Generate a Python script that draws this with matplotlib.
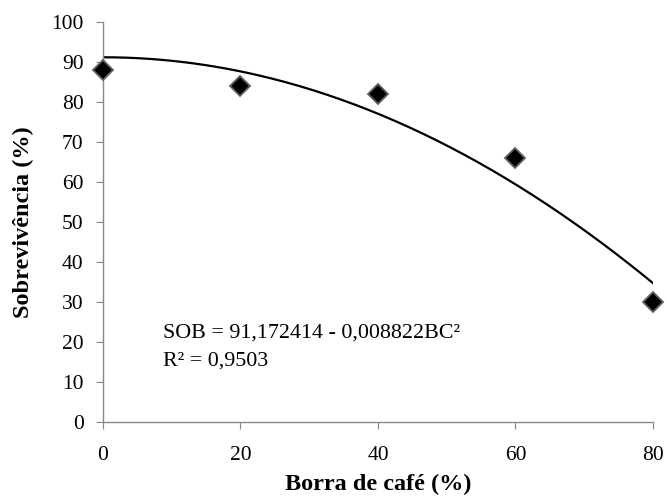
import numpy as np
import matplotlib
matplotlib.use("Agg")
import matplotlib.pyplot as plt

plt.rcParams['font.family'] = ['Liberation Serif', 'DejaVu Serif']

borra = [0, 20, 40, 60, 80]
sobrev = [88, 84, 82, 66, 30]
coef_a = 91.172414
coef_b = -0.008822
xticks = [0, 20, 40, 60, 80]
yticks = [0, 10, 20, 30, 40, 50, 60, 70, 80, 90, 100]

fig = plt.figure(figsize=(6.67, 4.99), dpi=100)
ax = fig.add_axes([0.1544, 0.1543, 0.979 - 0.1544, 0.956 - 0.1543])

xf = np.linspace(0, 80, 200)
ax.plot(xf, coef_a + coef_b * xf**2, color='black', lw=1.6, zorder=2)
ax.plot(borra, sobrev, linestyle='none', marker='D', markersize=10.5,
        markerfacecolor='black', markeredgecolor='#606060', markeredgewidth=1.3,
        clip_on=False, zorder=3)

ax.set_xlim(0, 80)
ax.set_ylim(0, 100)
ax.set_xticks(xticks)
ax.set_yticks(yticks)
ax.spines['top'].set_visible(False)
ax.spines['right'].set_visible(False)
for s in ['left', 'bottom']:
    ax.spines[s].set_color('#888888')
    ax.spines[s].set_linewidth(1)
ax.tick_params(axis='both', direction='out', length=5, color='#888888',
               labelsize=15.5)
ax.tick_params(axis='y', pad=9)
ax.tick_params(axis='x', pad=12)

ax.set_xlabel('Borra de café (%)', fontsize=17.5, fontweight='bold')
ax.set_ylabel('Sobrevivência (%)', fontsize=17.5, fontweight='bold')
ax.xaxis.set_label_coords(0.5, -(484 - 422) / (422 - 22), transform=ax.transAxes)
ax.yaxis.set_label_coords(-(103 - 23) / (653 - 103), 0.5, transform=ax.transAxes)
ax.xaxis.label.set_va('center')
ax.yaxis.label.set_va('center')

ax.text(8.7, 22.2, 'SOB = 91,172414 - 0,008822BC²', fontsize=15.8, va='center', ha='left')
ax.text(8.7, 15.2, 'R² = 0,9503', fontsize=15.8, va='center', ha='left')

fig.savefig('out.png', dpi=100)
